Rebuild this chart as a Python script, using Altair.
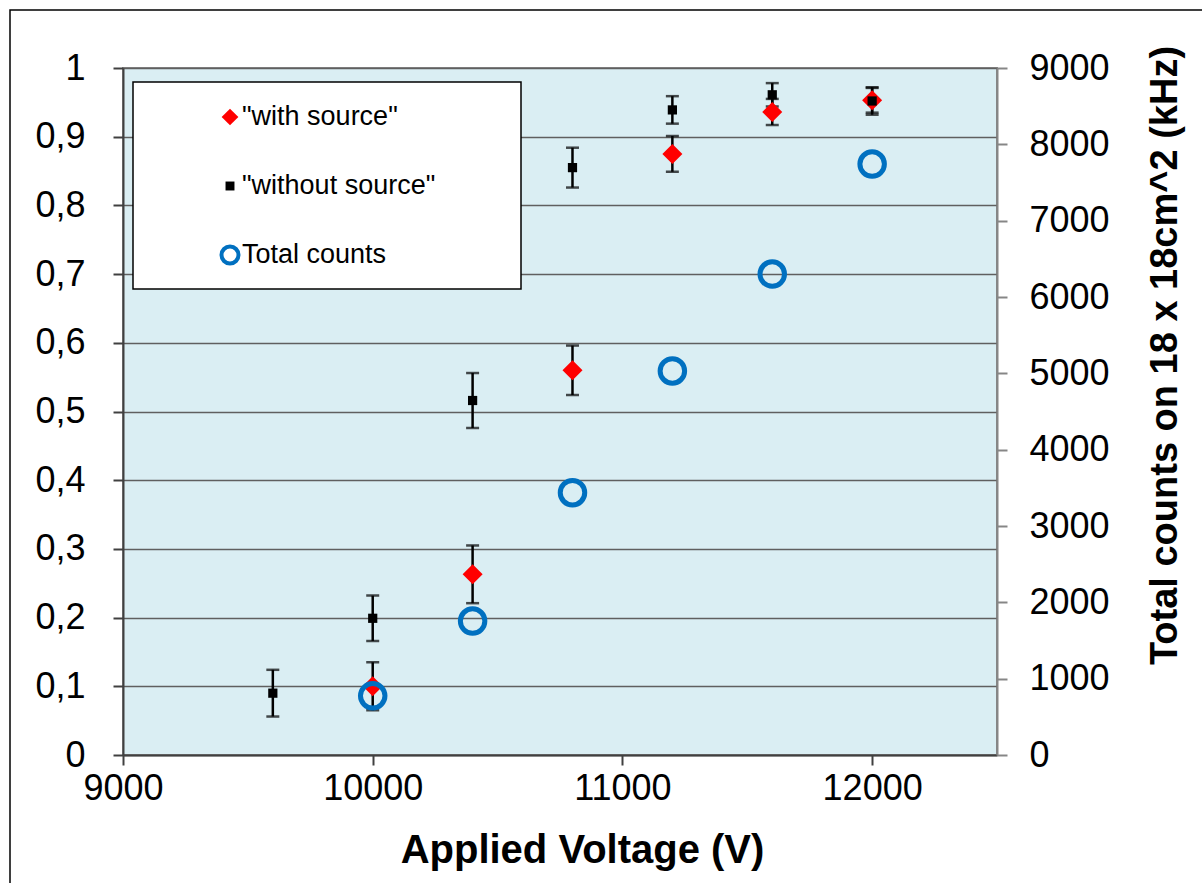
import altair as alt
import pandas as pd

# ---- data -------------------------------------------------------------
voltage_without = [9600, 10000, 10400, 10800, 11200, 11600, 12000]
eff_without = [0.090, 0.199, 0.516, 0.855, 0.939, 0.961, 0.952]
err_without = [0.034, 0.033, 0.040, 0.029, 0.020, 0.017, 0.020]

voltage_with = [10000, 10400, 10800, 11200, 11600, 12000]
eff_with = [0.100, 0.263, 0.560, 0.875, 0.936, 0.953]
err_with = [0.035, 0.042, 0.036, 0.026, 0.019, 0.018]

voltage_counts = [10000, 10400, 10800, 11200, 11600, 12000]
total_counts = [775, 1755, 3436, 5031, 6301, 7742]

legend_labels = ['"with source"', '"without source"', "Total counts"]

left_ticks = [0, 0.1, 0.2, 0.3, 0.4, 0.5, 0.6, 0.7, 0.8, 0.9, 1.0]
right_ticks = [0, 1000, 2000, 3000, 4000, 5000, 6000, 7000, 8000, 9000]
x_ticks = [9000, 10000, 11000, 12000]

# ---- tables -----------------------------------------------------------
df_without = pd.DataFrame({"V": voltage_without, "eff": eff_without, "err": err_without})
df_without["lo"] = df_without["eff"] - df_without["err"]
df_without["hi"] = df_without["eff"] + df_without["err"]

df_with = pd.DataFrame({"V": voltage_with, "eff": eff_with, "err": err_with})
df_with["lo"] = df_with["eff"] - df_with["err"]
df_with["hi"] = df_with["eff"] + df_with["err"]

df_counts = pd.DataFrame({"V": voltage_counts, "counts": total_counts})
one_row = pd.DataFrame({"k": [0]})

FONT = "Liberation Sans"
W, H = 874, 687
RED = "#FF0000"
BLUE = "#0070C0"

x_enc = alt.X(
    "V:Q",
    scale=alt.Scale(domain=[9000, 12500], nice=False, zero=False),
    axis=alt.Axis(
        values=x_ticks, format="d", grid=False, labelFlush=False,
        domainColor="#404040", domainWidth=2,
        tickColor="#404040", tickWidth=2, tickSize=10,
        labelFont=FONT, labelFontSize=36, labelColor="black", labelPadding=6,
        title="Applied Voltage (V)", titleFont=FONT, titleFontSize=40,
        titleFontWeight="bold", titleColor="black",
        titleX=459, titleY=107, titleBaseline="alphabetic",
    ),
)

left_scale = alt.Scale(domain=[0, 1], nice=False, zero=True)
left_axis = alt.Axis(
    values=left_ticks,
    labelExpr="replace(format(datum.value, '.1~f'), '.', ',')",
    grid=True, gridColor="#5f5f5f", gridWidth=1.5, labelFlush=False,
    domainColor="#404040", domainWidth=2,
    tickColor="#404040", tickWidth=2, tickSize=10,
    labelFont=FONT, labelFontSize=36, labelColor="black", labelPadding=28,
    title=None,
)

# error bars: vertical rules plus caps
def error_bars(df):
    base = alt.Chart(df)
    rule = base.mark_rule(color="black", strokeWidth=2.5).encode(
        x=x_enc, y=alt.Y("lo:Q", scale=left_scale, axis=left_axis), y2="hi:Q"
    )
    cap_lo = base.mark_tick(orient="horizontal", color="black", size=13, thickness=2.5).encode(
        x="V:Q", y=alt.Y("lo:Q", scale=left_scale)
    )
    cap_hi = base.mark_tick(orient="horizontal", color="black", size=13, thickness=2.5).encode(
        x="V:Q", y=alt.Y("hi:Q", scale=left_scale)
    )
    return [rule, cap_lo, cap_hi]

diamonds = alt.Chart(df_with).mark_point(
    shape="diamond", filled=True, size=400, color=RED, opacity=1
).encode(x="V:Q", y=alt.Y("eff:Q", scale=left_scale))

squares = alt.Chart(df_without).mark_point(
    shape="square", filled=True, size=85, color="black", opacity=1
).encode(x="V:Q", y=alt.Y("eff:Q", scale=left_scale))

left_layer = alt.layer(*error_bars(df_without), *error_bars(df_with), diamonds, squares)

circles = alt.Chart(df_counts).mark_point(
    shape="circle", filled=False, size=600, stroke=BLUE, strokeWidth=5, opacity=1
).encode(
    x="V:Q",
    y=alt.Y(
        "counts:Q",
        scale=alt.Scale(domain=[0, 9000], nice=False, zero=True),
        axis=alt.Axis(
            orient="right", values=right_ticks, format="d", grid=False, labelFlush=False,
            domainColor="#868686", domainWidth=2,
            tickColor="#868686", tickWidth=2, tickSize=10,
            labelFont=FONT, labelFontSize=36, labelColor="black", labelPadding=22,
            title="Total counts on 18 x 18cm^2 (kHz)", titleFont=FONT,
            titleFontSize=38, titleFontWeight="bold", titleColor="black",
            titleAngle=270, titleAlign="center", titleBaseline="middle",
            titleX=168, titleY=287,
        ),
    ),
)

data_layer = alt.layer(left_layer, circles).resolve_scale(y="independent")

# outer frame of the chart
frame = alt.Chart(one_row).mark_rect(
    fill="transparent", stroke="black", strokeWidth=1.5
).encode(x=alt.value(-113), x2=alt.value(1150), y=alt.value(-58), y2=alt.value(900))

# legend box with markers and labels
legend_box = alt.Chart(one_row).mark_rect(
    fill="white", stroke="black", strokeWidth=1.5
).encode(x=alt.value(10), x2=alt.value(398), y=alt.value(14), y2=alt.value(221))

leg_rows = [49, 118, 187]
leg_diamond = alt.Chart(one_row).mark_point(
    shape="diamond", filled=True, size=280, color=RED, opacity=1
).encode(x=alt.value(107), y=alt.value(leg_rows[0]))
leg_square = alt.Chart(one_row).mark_point(
    shape="square", filled=True, size=80, color="black", opacity=1
).encode(x=alt.value(107), y=alt.value(leg_rows[1]))
leg_circle = alt.Chart(one_row).mark_point(
    shape="circle", filled=False, size=290, stroke=BLUE, strokeWidth=4, opacity=1
).encode(x=alt.value(107), y=alt.value(leg_rows[2]))

leg_texts = [
    alt.Chart(one_row).mark_text(
        align="left", baseline="middle", font=FONT, fontSize=27, color="black"
    ).encode(x=alt.value(119), y=alt.value(r), text=alt.value(lbl))
    for lbl, r in zip(legend_labels, leg_rows)
]

chart = alt.layer(
    frame, data_layer, legend_box, leg_diamond, leg_square, leg_circle, *leg_texts
).properties(
    width=W, height=H,
    padding={"left": 123, "top": 68, "right": 1202 - 123 - W, "bottom": 883 - 68 - H},
    autosize=alt.AutoSizeParams(type="none"),
    background="white",
).configure_view(
    fill="#DAEEF3", stroke="#868686", strokeWidth=2
)

chart.save("out.html", embed_options={"renderer": "svg", "actions": False})
